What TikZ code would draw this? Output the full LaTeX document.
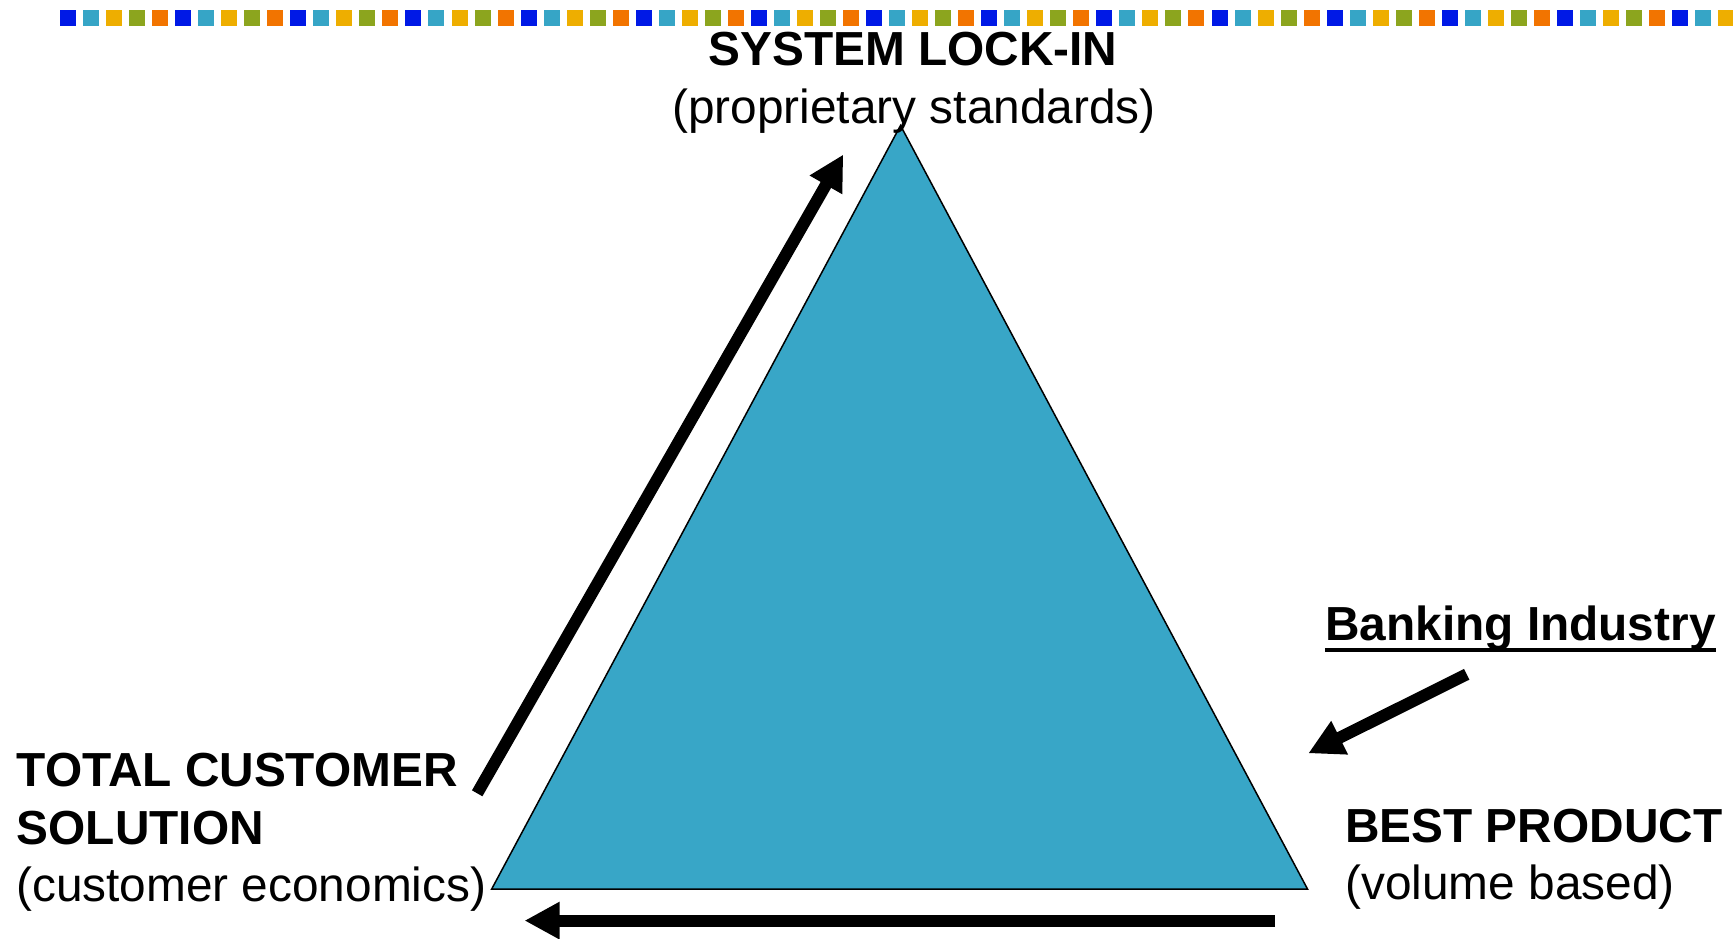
\documentclass[tikz,border=0pt]{standalone}
\usepackage{fontspec}
\setmainfont{Liberation Sans}
\usetikzlibrary{arrows.meta}
\definecolor{sqA}{HTML}{0019E6}
\definecolor{sqB}{HTML}{36A5C6}
\definecolor{sqC}{HTML}{EEAE00}
\definecolor{sqD}{HTML}{8CA51E}
\definecolor{sqE}{HTML}{F27400}
\definecolor{trifill}{HTML}{38A6C7}
\tikzset{
  lbl/.style={inner sep=0pt, anchor=base west, font=\fontsize{47.8}{57}\selectfont},
  lblb/.style={lbl, font=\fontsize{47.8}{57}\selectfont\bfseries},
  bigarrow/.style={line width=12pt, -{Triangle[length=35pt,width=35pt]}},
}
\begin{document}
\begin{tikzpicture}[x=1pt,y=-1pt]
\useasboundingbox (0,0) rectangle (1733,938);
% dotted colour bar
\foreach \i in {0,...,72}{
  \pgfmathtruncatemacro\c{mod(\i,5)}
  \ifcase\c \def\col{sqA}\or \def\col{sqB}\or \def\col{sqC}\or \def\col{sqD}\or \def\col{sqE}\fi
  \fill[\col] ({60+\i*23.03},10) rectangle ++(16,16);
}
% triangle
\coordinate (apex) at (900.5,125.5);
\coordinate (bl) at (491.7,889);
\coordinate (br) at (1307.5,889);
\filldraw[fill=trifill, draw=black, line width=1.5pt] (apex) -- (bl) -- (br) -- cycle;
% texts
\node[lblb, anchor=base] (top1) at (913,65.7) {SYSTEM LOCK-IN};
\node[lbl, anchor=base] (top2) at (914,123.3) {(proprietary standards)};
\node[lblb] (left1) at (16.7,786.7) {TOTAL CUSTOMER};
\node[lblb] (left2) at (16.7,844) {SOLUTION};
\node[lbl] (left3) at (16,901.7) {(customer economics)};
\node[lblb] (right1) at (1345,842) {BEST PRODUCT};
\node[lbl] (right2) at (1345,899) {(volume based)};
\node[lblb] (bank) at (1325,640) {Banking Industry};
\draw[line width=4pt] ([yshift=-10pt]bank.base west) -- ([yshift=-10pt]bank.base east);
% arrows
\coordinate (d1) at (477.2,793.3);
\coordinate (d2) at (843.3,154.5);
\coordinate (b1) at (1275,920.6);
\coordinate (b2) at (524.5,920.6);
\coordinate (k1) at (1466.7,674.3);
\coordinate (k2) at (1308.3,753.3);
\draw[bigarrow] (d1) -- (d2);
\draw[bigarrow] (b1) -- (b2);
\draw[bigarrow] (k1) -- (k2);
\end{tikzpicture}
\end{document}
